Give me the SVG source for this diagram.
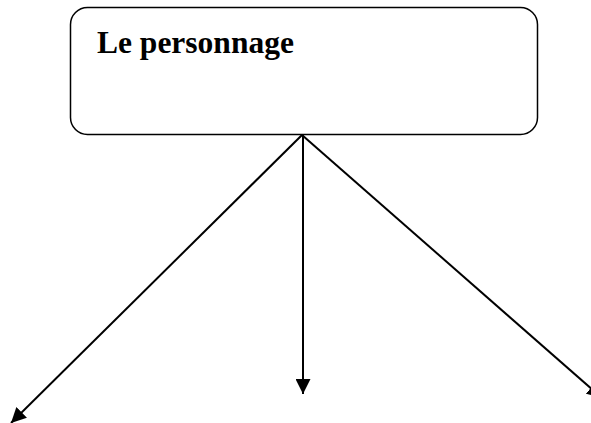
<svg xmlns="http://www.w3.org/2000/svg" width="591" height="423" viewBox="0 0 591 423">
<style>
.box{fill:#fff;stroke:#000;stroke-width:1.5}
.lbl{font-family:"Liberation Serif",serif;font-weight:bold;font-size:31.5px;fill:#000}
.con{stroke:#000;stroke-width:2;fill:none;marker-end:url(#ah)}
</style>
<defs>
<marker id="ah" viewBox="0 0 10 10" refX="10" refY="5" markerUnits="userSpaceOnUse" markerWidth="15" markerHeight="15" orient="auto">
<path d="M0,0 L10,5 L0,10 z" fill="#000"/>
</marker>
</defs>
<g id="node-personnage">
<rect class="box" x="70.5" y="7.5" width="467" height="127" rx="17"/>
<text class="lbl" x="97" y="53">Le personnage</text>
</g>
<g id="connectors">
<line class="con" x1="302" y1="135" x2="11" y2="423"/>
<line class="con" x1="303" y1="135" x2="303" y2="394"/>
<line class="con" x1="302" y1="135" x2="602" y2="398"/>
</g>
</svg>
